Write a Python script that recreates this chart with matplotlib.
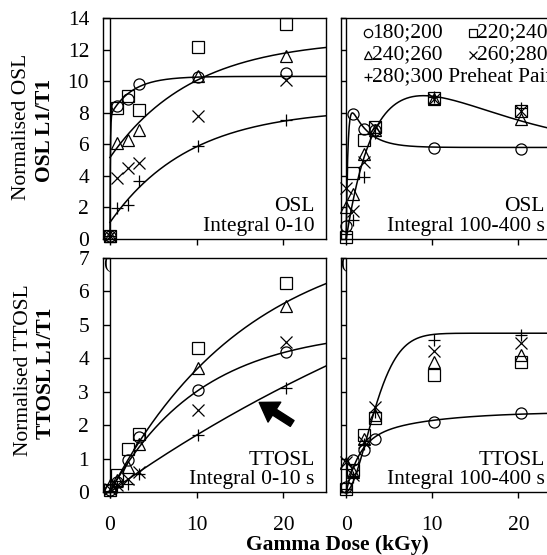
import matplotlib
matplotlib.use("Agg")
import matplotlib.pyplot as plt
import numpy as np

plt.rcParams['font.family'] = ['Liberation Serif', 'DejaVu Serif']
plt.rcParams['font.size'] = 15.5

# gamma doses (kGy)
dose = [0, 0.8, 2.1, 3.4, 10.2, 20.3]
preheats = ['180;200', '220;240', '240;260', '260;280', '280;300']
markers = ['o', 's', '^', 'x', '+']

# OSL, integral 0-10
osl_early = [
    [0.2, 8.4, 8.9, 9.85, 10.25, 10.5],
    [0.2, 8.3, 9.05, 8.2, 12.15, 13.6],
    [0.2, 6.1, 6.25, 6.9, 10.3, 11.6],
    [0.2, 3.85, 4.5, 4.8, 7.8, 10.05],
    [0.2, 1.95, 2.15, 3.7, 5.9, 7.55],
]
# OSL, integral 100-400 s
osl_late = [
    [0.85, 7.9, 7.0, 6.9, 5.75, 5.7],
    [0.1, 4.2, 6.3, 7.1, 8.95, 8.1],
    [2.0, 2.85, 5.4, 6.9, 8.85, 7.6],
    [3.25, 1.8, 4.85, 7.1, 8.9, 8.1],
    [0.3, 1.2, 3.9, 6.7, 9.0, 8.3],
]
# TTOSL, integral 0-10 s
ttosl_early = [
    [0.05, 0.3, 0.95, 1.65, 3.05, 4.2],
    [0.05, 0.5, 1.3, 1.75, 4.3, 6.25],
    [0.2, 0.35, 0.75, 1.45, 3.7, 5.55],
    [0.1, 0.2, 0.4, 0.6, 2.45, 4.5],
    [0.0, 0.15, 0.25, 0.55, 1.7, 3.1],
]
# TTOSL, integral 100-400 s
ttosl_late = [
    [0.15, 0.95, 1.25, 1.6, 2.1, 2.37],
    [0.1, 0.65, 1.7, 2.2, 3.5, 3.88],
    [0.87, 0.6, 1.6, 2.3, 3.88, 4.11],
    [0.9, 0.5, 1.5, 2.55, 4.21, 4.46],
    [0.1, 0.45, 1.45, 2.4, 4.56, 4.71],
]

# fitted curves: offset + a1*(1-exp(-x/d1)) + a2*(1-exp(-x/d2))
fit_osl_early = [(0, 7.8, 0.05, 2.5, 2.5), (5.16, 7.53, 9.55, 0, 1), (1.05, 7.24, 9.2, 0, 1)]
fit_ttosl_early = [(0, 7.9, 16, 0, 1), (0, 4.9, 10.5, 0, 1), (0, 11.1, 60, 0, 1)]
fit_ttosl_late_low = (0, 1.5, 1.5, 0.9, 8)
# rise with overshoot (OSL late, 180;200)
fit_osl_late_low = (5.8, 0.2, 3.5, 2.0)
# rise then gaussian decay (OSL late, others)
fit_osl_late_high = (3.0, 6.0, 4.4, 19.5)
# weibull-type growth (TTOSL late, others)
fit_ttosl_late_high = (4.75, 3.99, 1.7)


def sat(x, p):
    c, a1, d1, a2, d2 = p
    return c + a1 * (1 - np.exp(-x / d1)) + a2 * (1 - np.exp(-x / d2))


def overshoot(x, p):
    ys, d1, b, d2 = p
    return ys * (1 - np.exp(-x / d1)) + b * (np.exp(-x / d2) - np.exp(-x / d1))


def rise_decay(x, p):
    d, c, a, w = p
    return (1 - np.exp(-x / d)) * (c + a * np.exp(-(x / w) ** 2))


def weibull(x, p):
    ys, c, k = p
    return ys * (1 - np.exp(-(x / c) ** k))


W, H = 547, 555
fig = plt.figure(figsize=(W / 100, H / 100), dpi=100)


def make_ax(left, top, bottom, xlim, ylim, yticks, tick_len, xlabels, ylabels):
    ax = fig.add_axes([left / W, 1 - bottom / H, 223 / W, (bottom - top) / H])
    ax.set_xlim(*xlim)
    ax.set_ylim(*ylim)
    ax.set_xticks([0, 10, 20])
    ax.set_yticks(yticks)
    for s in ax.spines.values():
        s.set_linewidth(1.0)
    ax.tick_params(axis='y', direction='in', length=tick_len, width=1.0, pad=10,
                   labelleft=ylabels)
    ax.tick_params(axis='x', direction='out', length=4.5, width=1.0, pad=13,
                   labelbottom=xlabels)
    ax.axvline(0, color='k', lw=1.0, zorder=1)
    return ax


def draw_points(ax, data):
    for vals, m in zip(data, markers):
        ax.plot(dose, vals, ls='', marker=m, ms=8.5 if m in 'x+' else 8,
                mfc='none', mec='k', mew=0.9, clip_on=False, zorder=3)


ax1 = make_ax(103, 18, 239, (-0.8, 24.9), (0, 14), range(0, 15, 2), 5.0, False, True)
ax2 = make_ax(341, 18, 239, (-0.6, 25.3), (0, 14), range(0, 15, 2), 3.6, False, False)
ax3 = make_ax(103, 258, 492, (-0.8, 24.9), (0, 7), range(0, 8), 5.0, True, True)
ax4 = make_ax(341, 258, 492, (-0.6, 25.3), (0, 7), range(0, 8), 3.6, True, False)

xs = np.linspace(0, 26, 600)
for p in fit_osl_early:
    ax1.plot(xs, sat(xs, p), color='k', lw=1.1)
ax2.plot(xs, overshoot(xs, fit_osl_late_low), color='k', lw=1.1)
ax2.plot(xs, rise_decay(xs, fit_osl_late_high), color='k', lw=1.1)
for p in fit_ttosl_early:
    ax3.plot(xs, sat(xs, p), color='k', lw=1.1)
ax4.plot(xs, sat(xs, fit_ttosl_late_low), color='k', lw=1.1)
ax4.plot(xs, weibull(xs, fit_ttosl_late_high), color='k', lw=1.1)

draw_points(ax1, osl_early)
draw_points(ax2, osl_late)
draw_points(ax3, ttosl_early)
draw_points(ax4, ttosl_late)

# panel captions
ax1.text(0.95, 0.145, 'OSL', transform=ax1.transAxes, ha='right', va='center')
ax1.text(0.95, 0.055, 'Integral 0-10', transform=ax1.transAxes, ha='right', va='center')
ax2.text(0.915, 0.145, 'OSL', transform=ax2.transAxes, ha='right', va='center')
ax2.text(0.915, 0.055, 'Integral 100-400 s', transform=ax2.transAxes, ha='right', va='center')
ax3.text(0.95, 0.135, 'TTOSL', transform=ax3.transAxes, ha='right', va='center')
ax3.text(0.95, 0.055, 'Integral 0-10 s', transform=ax3.transAxes, ha='right', va='center')
ax4.text(0.915, 0.135, 'TTOSL', transform=ax4.transAxes, ha='right', va='center')
ax4.text(0.915, 0.055, 'Integral 100-400 s', transform=ax4.transAxes, ha='right', va='center')

# clipped panel-label remnants
for ax in (ax3, ax4):
    ax.text(-0.75, 7.1, '(', ha='left', va='top', fontsize=14, clip_on=True)

# legend
leg_rows = [0.932, 0.833, 0.733]
leg_cols = [0.12, 0.59]
leg_pos = [(0, 0), (1, 0), (0, 1), (1, 1), (0, 2)]
for (c, r), m, lab in zip(leg_pos, markers, preheats):
    ax2.plot([leg_cols[c]], [leg_rows[r]], marker=m, ms=6, mfc='none', mec='k',
             mew=0.9, ls='', transform=ax2.transAxes)
    if lab == '280;300':
        lab = lab + ' Preheat Pairs'
    ax2.text(leg_cols[c] + 0.02, leg_rows[r], lab, transform=ax2.transAxes,
             ha='left', va='center')

# arrow
ax3.annotate('', xy=(17.2, 2.68), xytext=(21.0, 2.05),
             arrowprops=dict(facecolor='k', edgecolor='k', width=5, headwidth=17,
                             headlength=13))

# axis labels
fig.text(22 / W, 1 - 127 / H, 'Normalised OSL', rotation=90, ha='center', va='center')
fig.text(45 / W, 1 - 130 / H, 'OSL L1/T1', rotation=90, ha='center', va='center',
         fontweight='bold')
fig.text(24 / W, 1 - 370 / H, 'Normalised TTOSL', rotation=90, ha='center', va='center')
fig.text(46 / W, 1 - 373 / H, 'TTOSL L1/T1', rotation=90, ha='center', va='center',
         fontweight='bold')
fig.text(337 / W, 1 - 545 / H, 'Gamma Dose (kGy)', ha='center', va='center',
         fontweight='bold')

fig.savefig('out.png', dpi=100)
